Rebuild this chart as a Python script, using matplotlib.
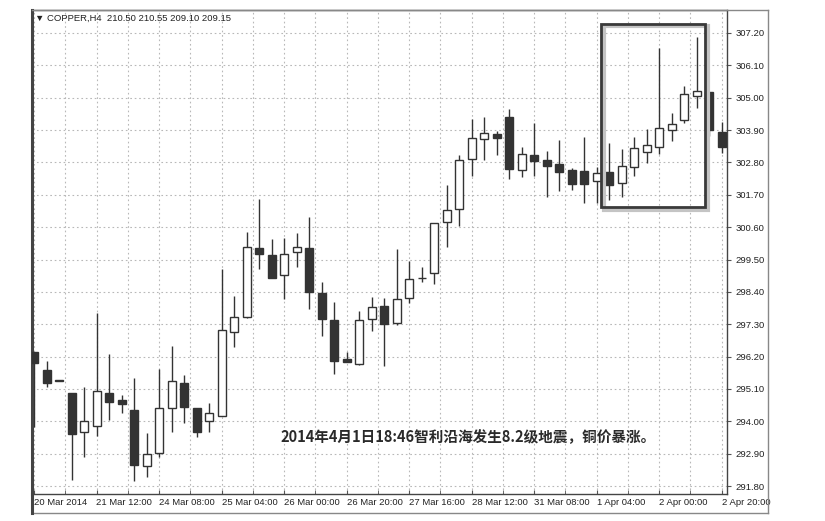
"""COPPER H4 candlestick chart with the Chile earthquake annotation."""
import matplotlib.pyplot as plt
import matplotlib.transforms as mtransforms
from matplotlib.patches import Rectangle
from matplotlib.lines import Line2D
import numpy as np

DARK = "#333333"
GRID = "#b8b8b8"

# OHLC per H4 bar
opens = [296.35, 295.74, 295.40, 294.96, 293.64, 293.84, 294.96, 294.72, 294.38, 292.48,
         292.92, 294.45, 295.30, 294.45, 294.01, 294.18, 297.03, 297.54, 299.89, 299.65,
         298.97, 299.75, 299.89, 298.36, 297.44, 296.12, 295.95, 297.48, 297.92, 297.34,
         298.19, 298.87, 299.04, 300.77, 301.22, 302.92, 303.60, 303.77, 304.34, 302.54,
         303.05, 302.88, 302.75, 302.54, 302.51, 302.17, 302.47, 302.10, 302.64, 303.15,
         303.32, 303.90, 304.24, 305.06, 305.19, 303.83]
highs = [296.35, 296.05, 295.40, 294.96, 295.16, 297.68, 296.29, 294.89, 295.47, 293.60,
         295.78, 296.56, 295.57, 294.45, 294.62, 299.18, 298.26, 300.43, 301.56, 300.20,
         300.23, 300.40, 300.94, 298.73, 298.05, 296.35, 297.75, 298.22, 298.19, 299.86,
         299.45, 299.24, 300.74, 302.03, 303.05, 304.28, 304.34, 303.87, 304.62, 303.32,
         304.14, 303.19, 303.56, 302.61, 303.66, 302.64, 303.46, 303.26, 303.66, 303.94,
         306.69, 304.48, 305.40, 307.06, 305.19, 304.17]
lows = [293.80, 295.16, 295.40, 292.00, 292.78, 293.50, 294.04, 294.28, 291.97, 292.10,
        292.78, 293.64, 293.94, 293.46, 293.64, 294.18, 296.52, 297.51, 299.18, 298.87,
        298.16, 299.24, 297.82, 296.90, 295.61, 296.00, 295.90, 297.07, 295.88, 297.27,
        298.02, 298.73, 298.67, 299.92, 300.64, 302.34, 302.88, 303.05, 302.24, 302.30,
        302.34, 301.62, 301.83, 301.86, 301.42, 301.42, 301.52, 301.62, 302.34, 302.78,
        303.09, 303.53, 304.14, 304.65, 303.70, 303.12]
closes = [295.98, 295.30, 295.38, 293.57, 294.01, 295.03, 294.65, 294.59, 292.51, 292.89,
          294.45, 295.37, 294.48, 293.64, 294.28, 297.10, 297.54, 299.92, 299.69, 298.87,
          299.69, 299.92, 298.39, 297.48, 296.05, 296.01, 297.44, 297.88, 297.31, 298.16,
          298.84, 298.87, 300.74, 301.18, 302.88, 303.63, 303.80, 303.63, 302.58, 303.09,
          302.85, 302.68, 302.47, 302.07, 302.07, 302.44, 302.03, 302.68, 303.29, 303.39,
          303.97, 304.11, 305.13, 305.23, 303.90, 303.32]

time_labels = ["20 Mar 2014", "21 Mar 12:00", "24 Mar 08:00", "25 Mar 04:00",
               "26 Mar 00:00", "26 Mar 20:00", "27 Mar 16:00", "28 Mar 12:00",
               "31 Mar 08:00", "1 Apr 04:00", "2 Apr 00:00", "2 Apr 20:00"]
price_ticks = [291.80, 292.90, 294.00, 295.10, 296.20, 297.30, 298.40, 299.50,
               300.60, 301.70, 302.80, 303.90, 305.00, 306.10, 307.20]

header = "\u25bc COPPER,H4  210.50 210.55 209.10 209.15"
note = "2014年4月1日18:46智利沿海发生8.2级地震，铜价暴涨。"
quake_bars = (46, 53)  # bars inside the highlighted box

o = np.array(opens)
h = np.array(highs)
l = np.array(lows)
c = np.array(closes)
x = np.arange(len(o))

plt.rcParams["font.family"] = ["Liberation Sans", "DejaVu Sans"]

fig = plt.figure(figsize=(8.25, 5.21), dpi=100)
ax = fig.add_axes([32 / 825, 27 / 521, 695 / 825, 484 / 521])

ax.vlines(x, l, h, color=DARK, linewidth=1.0, zorder=2)
up = c >= o
ax.bar(x, np.abs(c - o), bottom=np.minimum(o, c), width=0.64,
       color=np.where(up, "white", DARK), edgecolor=DARK, linewidth=1.0, zorder=3)

ax.set_xlim(-0.16, 55.44)
ax.set_ylim(291.53, 307.98)

ax.set_xticks(x[::5])
ax.set_xticklabels(time_labels, fontsize=6.8, color="#222222", ha="left")
ax.set_xticks(np.arange(0, len(o), 2.5), minor=True)
ax.tick_params(axis="x", which="both", direction="in", length=3, color="#555555", pad=3)

ax.yaxis.tick_right()
ax.set_yticks(price_ticks)
ax.set_yticklabels([f"{p:.2f}" for p in price_ticks], fontsize=6.8, color="#222222")
ax.tick_params(axis="y", direction="out", length=3, color="#555555", pad=3)

ax.grid(True, which="both", linestyle=(0, (1.5, 2.5)), color=GRID, linewidth=0.8)
ax.set_axisbelow(True)

for side in ["top", "right", "bottom"]:
    ax.spines[side].set_color("#444444")
    ax.spines[side].set_linewidth(1.0)
ax.spines["left"].set_color("#444444")
ax.spines["left"].set_linewidth(2.2)

# outer frame around the price and time scales
frame = dict(color="#888888", linewidth=1.0, transform=fig.transFigure)
fig.add_artist(Line2D([32 / 825, 768 / 825], [511.5 / 521, 511.5 / 521], **frame))
fig.add_artist(Line2D([768 / 825, 768 / 825], [8 / 521, 511.5 / 521], **frame))
fig.add_artist(Line2D([32 / 825, 768 / 825], [8 / 521, 8 / 521], **frame))
fig.add_artist(Line2D([32 / 825, 32 / 825], [8 / 521, 27 / 521],
                      color="#444444", linewidth=2.2, transform=fig.transFigure))

ax.text(0.005, 0.983, header, transform=ax.transAxes, fontsize=6.8, color="#222222",
        va="center", ha="left", family=["Liberation Sans", "DejaVu Sans"])

# highlight box around the bars after the quake, with a soft drop shadow
a, b = quake_bars
y0 = l[a:b + 1].min() - 0.24
y1 = h[a:b + 1].max() + 0.45
x0 = a - 0.64
w = (b - a) + 1.32
shadow_tr = mtransforms.offset_copy(ax.transData, fig=fig, x=2.5, y=-2.5, units="dots")
ax.add_patch(Rectangle((x0, y0), w, y1 - y0, fill=False, edgecolor="#c4c4c4",
                       linewidth=3.0, transform=shadow_tr, zorder=4))
ax.add_patch(Rectangle((x0, y0), w, y1 - y0, fill=False, edgecolor="#3a3a3a",
                       linewidth=2.0, zorder=5))

ax.text(0.358, 0.118, note, transform=ax.transAxes, fontsize=10.5, color="#2a2a2a",
        va="center", ha="left", weight="bold",
        family=["Noto Sans CJK SC", "DejaVu Sans"], zorder=6)

fig.savefig("out.png", dpi=100)
